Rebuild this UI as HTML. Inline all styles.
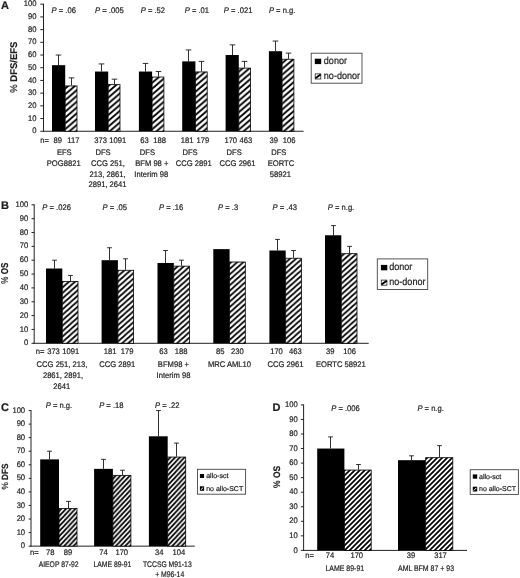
<!DOCTYPE html>
<html><head><meta charset="utf-8"><title>Figure</title>
<style>html,body{margin:0;padding:0;background:#fff}body{width:520px;height:578px;overflow:hidden}svg{display:block;will-change:transform}text{text-rendering:geometricPrecision;font-family:"Liberation Sans",sans-serif;fill:#1c1c1c;stroke:#1c1c1c;stroke-width:0.2px}.ax{stroke:#222;stroke-width:1;fill:none}.er{stroke:#1a1a1a;stroke-width:0.9;fill:none}</style></head><body>
<svg width="520" height="578" viewBox="0 0 520 578">
<defs><pattern id="hA" width="6.7" height="5.8" patternUnits="userSpaceOnUse"><rect width="6.7" height="5.8" fill="#fff"/><path d="M-1.675 1.450L1.675 -1.450M-1.675 7.250L8.375 -1.450M5.025 7.250L8.375 4.350" stroke="#000" stroke-width="1.9"/></pattern><pattern id="hB" width="6.1" height="5.45" patternUnits="userSpaceOnUse"><rect width="6.1" height="5.45" fill="#fff"/><path d="M-1.525 1.363L1.525 -1.363M-1.525 6.812L7.625 -1.363M4.575 6.812L7.625 4.088" stroke="#000" stroke-width="1.85"/></pattern><pattern id="hC" width="4.7" height="5.04" patternUnits="userSpaceOnUse"><rect width="4.7" height="5.04" fill="#fff"/><path d="M-1.175 1.260L1.175 -1.260M-1.175 6.300L5.875 -1.260M3.525 6.300L5.875 3.780" stroke="#000" stroke-width="1.8"/></pattern><pattern id="hD" width="5" height="5" patternUnits="userSpaceOnUse"><rect width="5" height="5" fill="#fff"/><path d="M-1.250 1.250L1.250 -1.250M-1.250 6.250L6.250 -1.250M3.750 6.250L6.250 3.750" stroke="#000" stroke-width="1.72"/></pattern><pattern id="hl" width="4" height="4" patternUnits="userSpaceOnUse"><rect width="4" height="4" fill="#fff"/><path d="M-1 1L1 -1M-1 5L5 -1M3 5L5 3" stroke="#000" stroke-width="1.5"/></pattern></defs>
<rect width="520" height="578" fill="#fff"/>
<path d="M43.50 3.70V131.75" class="ax"/>
<path d="M43.00 131.25H303.60" class="ax"/>
<path d="M40.30 131.25H43.50" class="ax"/>
<text transform="translate(36.40 133.35) scale(0.94 1)" font-size="8.1" text-anchor="end">0</text>
<path d="M40.30 118.55H43.50" class="ax"/>
<text transform="translate(36.40 120.64) scale(0.94 1)" font-size="8.1" text-anchor="end">10</text>
<path d="M40.30 105.84H43.50" class="ax"/>
<text transform="translate(36.40 107.94) scale(0.94 1)" font-size="8.1" text-anchor="end">20</text>
<path d="M40.30 93.13H43.50" class="ax"/>
<text transform="translate(36.40 95.23) scale(0.94 1)" font-size="8.1" text-anchor="end">30</text>
<path d="M40.30 80.43H43.50" class="ax"/>
<text transform="translate(36.40 82.53) scale(0.94 1)" font-size="8.1" text-anchor="end">40</text>
<path d="M40.30 67.72H43.50" class="ax"/>
<text transform="translate(36.40 69.82) scale(0.94 1)" font-size="8.1" text-anchor="end">50</text>
<path d="M40.30 55.02H43.50" class="ax"/>
<text transform="translate(36.40 57.12) scale(0.94 1)" font-size="8.1" text-anchor="end">60</text>
<path d="M40.30 42.31H43.50" class="ax"/>
<text transform="translate(36.40 44.41) scale(0.94 1)" font-size="8.1" text-anchor="end">70</text>
<path d="M40.30 29.61H43.50" class="ax"/>
<text transform="translate(36.40 31.71) scale(0.94 1)" font-size="8.1" text-anchor="end">80</text>
<path d="M40.30 16.91H43.50" class="ax"/>
<text transform="translate(36.40 19.01) scale(0.94 1)" font-size="8.1" text-anchor="end">90</text>
<path d="M40.30 4.20H43.50" class="ax"/>
<text transform="translate(36.40 6.30) scale(0.94 1)" font-size="8.1" text-anchor="end">100</text>
<path d="M58.50 55.02V65.18M55.70 55.02H61.30" class="er"/>
<path d="M71.50 77.89V85.51M68.70 77.89H74.30" class="er"/>
<rect x="52.00" y="65.18" width="13.20" height="66.07" fill="#000"/>
<rect x="65.20" y="85.91" width="11.80" height="45.34" fill="url(#hA)" stroke="#000" stroke-width="0.8"/>
<path d="M101.50 63.91V71.54M98.70 63.91H104.30" class="er"/>
<path d="M114.50 79.16V84.24M111.70 79.16H117.30" class="er"/>
<rect x="95.00" y="71.54" width="13.20" height="59.71" fill="#000"/>
<rect x="108.20" y="84.64" width="11.80" height="46.61" fill="url(#hA)" stroke="#000" stroke-width="0.8"/>
<path d="M145.50 63.41V71.54M142.70 63.41H148.30" class="er"/>
<path d="M158.50 71.54V76.62M155.70 71.54H161.30" class="er"/>
<rect x="138.90" y="71.54" width="13.20" height="59.71" fill="#000"/>
<rect x="152.10" y="77.02" width="11.80" height="54.23" fill="url(#hA)" stroke="#000" stroke-width="0.8"/>
<path d="M188.50 49.94V61.37M185.70 49.94H191.30" class="er"/>
<path d="M201.50 61.37V71.54M198.70 61.37H204.30" class="er"/>
<rect x="182.20" y="61.37" width="13.20" height="69.88" fill="#000"/>
<rect x="195.40" y="71.94" width="11.80" height="59.31" fill="url(#hA)" stroke="#000" stroke-width="0.8"/>
<path d="M232.50 44.86V55.02M229.70 44.86H235.30" class="er"/>
<path d="M244.50 61.37V67.72M241.70 61.37H247.30" class="er"/>
<rect x="225.60" y="55.02" width="13.20" height="76.23" fill="#000"/>
<rect x="238.80" y="68.12" width="11.80" height="63.13" fill="url(#hA)" stroke="#000" stroke-width="0.8"/>
<path d="M275.50 41.04V51.21M272.70 41.04H278.30" class="er"/>
<path d="M288.50 53.11V58.83M285.70 53.11H291.30" class="er"/>
<rect x="268.90" y="51.21" width="13.20" height="80.04" fill="#000"/>
<rect x="282.10" y="59.23" width="11.80" height="72.02" fill="url(#hA)" stroke="#000" stroke-width="0.8"/>
<text transform="translate(17.00 67.20) rotate(-90) scale(0.97 1)" text-anchor="middle" font-size="9.8" font-weight="bold"><tspan font-weight="normal">%</tspan> DFS/EFS</text>
<text x="1.00" y="9.20" font-size="11" font-weight="bold" fill="#000">A</text>
<text transform="translate(63.75 13.00) scale(0.94 1)" font-size="8.1" text-anchor="middle"><tspan font-style="italic">P</tspan> = .06</text>
<text transform="translate(109.38 13.00) scale(0.94 1)" font-size="8.1" text-anchor="middle"><tspan font-style="italic">P</tspan> = .005</text>
<text transform="translate(152.88 13.00) scale(0.94 1)" font-size="8.1" text-anchor="middle"><tspan font-style="italic">P</tspan> = .52</text>
<text transform="translate(196.88 13.00) scale(0.94 1)" font-size="8.1" text-anchor="middle"><tspan font-style="italic">P</tspan> = .01</text>
<text transform="translate(238.12 13.00) scale(0.94 1)" font-size="8.1" text-anchor="middle"><tspan font-style="italic">P</tspan> = .021</text>
<text transform="translate(282.12 13.00) scale(0.94 1)" font-size="8.1" text-anchor="middle"><tspan font-style="italic">P</tspan> = n.g.</text>
<text transform="translate(44.50 142.60) scale(0.94 1)" font-size="8.1" text-anchor="middle">n=</text>
<text transform="translate(57.75 142.60) scale(0.94 1)" font-size="8.1" text-anchor="middle">89</text>
<text transform="translate(73.35 142.60) scale(0.94 1)" font-size="8.1" text-anchor="middle">117</text>
<text transform="translate(100.65 142.60) scale(0.94 1)" font-size="8.1" text-anchor="middle">373</text>
<text transform="translate(117.80 142.60) scale(0.94 1)" font-size="8.1" text-anchor="middle">1091</text>
<text transform="translate(144.45 142.60) scale(0.94 1)" font-size="8.1" text-anchor="middle">63</text>
<text transform="translate(159.65 142.60) scale(0.94 1)" font-size="8.1" text-anchor="middle">188</text>
<text transform="translate(187.10 142.60) scale(0.94 1)" font-size="8.1" text-anchor="middle">181</text>
<text transform="translate(202.95 142.60) scale(0.94 1)" font-size="8.1" text-anchor="middle">179</text>
<text transform="translate(230.75 142.60) scale(0.94 1)" font-size="8.1" text-anchor="middle">170</text>
<text transform="translate(245.80 142.60) scale(0.94 1)" font-size="8.1" text-anchor="middle">463</text>
<text transform="translate(273.65 142.60) scale(0.94 1)" font-size="8.1" text-anchor="middle">39</text>
<text transform="translate(289.15 142.60) scale(0.94 1)" font-size="8.1" text-anchor="middle">106</text>
<text transform="translate(64.30 154.70) scale(0.94 1)" font-size="8.1" text-anchor="middle">EFS</text>
<text transform="translate(103.00 154.70) scale(0.94 1)" font-size="8.1" text-anchor="middle">DFS</text>
<text transform="translate(147.40 154.70) scale(0.94 1)" font-size="8.1" text-anchor="middle">DFS</text>
<text transform="translate(190.00 154.70) scale(0.94 1)" font-size="8.1" text-anchor="middle">DFS</text>
<text transform="translate(234.20 154.70) scale(0.94 1)" font-size="8.1" text-anchor="middle">DFS</text>
<text transform="translate(278.80 154.70) scale(0.94 1)" font-size="8.1" text-anchor="middle">DFS</text>
<text transform="translate(63.70 165.50) scale(0.94 1)" font-size="8.1" text-anchor="middle">POG8821</text>
<text transform="translate(108.00 165.50) scale(0.94 1)" font-size="8.1" text-anchor="middle">CCG 251,</text>
<text transform="translate(151.80 165.50) scale(0.94 1)" font-size="8.1" text-anchor="middle">BFM 98 +</text>
<text transform="translate(193.80 165.50) scale(0.94 1)" font-size="8.1" text-anchor="middle">CCG 2891</text>
<text transform="translate(237.60 165.50) scale(0.94 1)" font-size="8.1" text-anchor="middle">CCG 2961</text>
<text transform="translate(281.00 165.50) scale(0.94 1)" font-size="8.1" text-anchor="middle">EORTC</text>
<text transform="translate(107.60 176.80) scale(0.94 1)" font-size="8.1" text-anchor="middle">213, 2861,</text>
<text transform="translate(151.20 176.80) scale(0.94 1)" font-size="8.1" text-anchor="middle">Interim 98</text>
<text transform="translate(280.30 176.80) scale(0.94 1)" font-size="8.1" text-anchor="middle">58921</text>
<text transform="translate(107.50 187.40) scale(0.94 1)" font-size="8.1" text-anchor="middle">2891, 2641</text>
<rect x="311.20" y="53.20" width="50.80" height="30.00" fill="#fff" stroke="#444" stroke-width="0.9"/>
<rect x="314.80" y="58.70" width="6.40" height="5.40" fill="#000"/>
<rect x="315.20" y="73.90" width="5.60" height="5.10" fill="#fff" stroke="#222" stroke-width="0.8"/>
<path d="M315.40 78.30L320.60 74.60" stroke="#000" stroke-width="1.9"/>
<text transform="translate(323.80 64.10) scale(0.89 1)" font-size="10.2">donor</text>
<text transform="translate(323.80 79.20) scale(0.89 1)" font-size="10.2">no-donor</text>
<path d="M34.20 204.30V343.80" class="ax"/>
<path d="M33.70 343.30H368.70" class="ax"/>
<path d="M31.50 343.30H34.20" class="ax"/>
<text transform="translate(28.20 345.40) scale(0.94 1)" font-size="8.1" text-anchor="end">0</text>
<path d="M31.50 329.45H34.20" class="ax"/>
<text transform="translate(28.20 331.55) scale(0.94 1)" font-size="8.1" text-anchor="end">10</text>
<path d="M31.50 315.60H34.20" class="ax"/>
<text transform="translate(28.20 317.70) scale(0.94 1)" font-size="8.1" text-anchor="end">20</text>
<path d="M31.50 301.75H34.20" class="ax"/>
<text transform="translate(28.20 303.85) scale(0.94 1)" font-size="8.1" text-anchor="end">30</text>
<path d="M31.50 287.90H34.20" class="ax"/>
<text transform="translate(28.20 290.00) scale(0.94 1)" font-size="8.1" text-anchor="end">40</text>
<path d="M31.50 274.05H34.20" class="ax"/>
<text transform="translate(28.20 276.15) scale(0.94 1)" font-size="8.1" text-anchor="end">50</text>
<path d="M31.50 260.20H34.20" class="ax"/>
<text transform="translate(28.20 262.30) scale(0.94 1)" font-size="8.1" text-anchor="end">60</text>
<path d="M31.50 246.35H34.20" class="ax"/>
<text transform="translate(28.20 248.45) scale(0.94 1)" font-size="8.1" text-anchor="end">70</text>
<path d="M31.50 232.50H34.20" class="ax"/>
<text transform="translate(28.20 234.60) scale(0.94 1)" font-size="8.1" text-anchor="end">80</text>
<path d="M31.50 218.65H34.20" class="ax"/>
<text transform="translate(28.20 220.75) scale(0.94 1)" font-size="8.1" text-anchor="end">90</text>
<path d="M31.50 204.80H34.20" class="ax"/>
<text transform="translate(28.20 206.90) scale(0.94 1)" font-size="8.1" text-anchor="end">100</text>
<path d="M54.50 260.20V268.51M52.10 260.20H56.90" class="er"/>
<path d="M70.50 275.44V280.98M68.10 275.44H72.90" class="er"/>
<rect x="46.00" y="268.51" width="16.30" height="74.79" fill="#000"/>
<rect x="62.30" y="281.38" width="15.70" height="61.92" fill="url(#hB)" stroke="#000" stroke-width="0.8"/>
<path d="M109.50 247.74V260.20M107.10 247.74H111.90" class="er"/>
<path d="M125.50 258.81V269.89M123.10 258.81H127.90" class="er"/>
<rect x="101.60" y="260.20" width="16.30" height="83.10" fill="#000"/>
<rect x="117.90" y="270.29" width="15.70" height="73.01" fill="url(#hB)" stroke="#000" stroke-width="0.8"/>
<path d="M165.50 250.50V262.97M163.10 250.50H167.90" class="er"/>
<path d="M181.50 260.20V265.74M179.10 260.20H183.90" class="er"/>
<rect x="157.50" y="262.97" width="16.30" height="80.33" fill="#000"/>
<rect x="173.80" y="266.14" width="15.70" height="77.16" fill="url(#hB)" stroke="#000" stroke-width="0.8"/>
<rect x="213.30" y="249.12" width="16.30" height="94.18" fill="#000"/>
<rect x="229.60" y="261.99" width="15.70" height="81.31" fill="url(#hB)" stroke="#000" stroke-width="0.8"/>
<path d="M277.50 239.43V250.50M275.10 239.43H279.90" class="er"/>
<path d="M293.50 250.50V257.85M291.10 250.50H295.90" class="er"/>
<rect x="269.40" y="250.50" width="16.30" height="92.80" fill="#000"/>
<rect x="285.70" y="258.25" width="15.70" height="85.05" fill="url(#hB)" stroke="#000" stroke-width="0.8"/>
<path d="M333.50 225.58V235.27M331.10 225.58H335.90" class="er"/>
<path d="M349.50 246.35V253.28M347.10 246.35H351.90" class="er"/>
<rect x="325.00" y="235.27" width="16.30" height="108.03" fill="#000"/>
<rect x="341.30" y="253.68" width="15.70" height="89.62" fill="url(#hB)" stroke="#000" stroke-width="0.8"/>
<text transform="translate(8.30 273.20) rotate(-90) scale(0.8 1)" text-anchor="middle" font-size="10" font-weight="bold"><tspan font-weight="normal">%</tspan> OS</text>
<text x="0.90" y="209.30" font-size="11" font-weight="bold" fill="#000">B</text>
<text transform="translate(56.60 210.40) scale(0.94 1)" font-size="8.1" text-anchor="middle"><tspan font-style="italic">P</tspan> = .026</text>
<text transform="translate(114.75 210.40) scale(0.94 1)" font-size="8.1" text-anchor="middle"><tspan font-style="italic">P</tspan> = .05</text>
<text transform="translate(171.15 210.40) scale(0.94 1)" font-size="8.1" text-anchor="middle"><tspan font-style="italic">P</tspan> = .16</text>
<text transform="translate(228.10 210.40) scale(0.94 1)" font-size="8.1" text-anchor="middle"><tspan font-style="italic">P</tspan> = .3</text>
<text transform="translate(284.75 210.40) scale(0.94 1)" font-size="8.1" text-anchor="middle"><tspan font-style="italic">P</tspan> = .43</text>
<text transform="translate(341.00 210.40) scale(0.94 1)" font-size="8.1" text-anchor="middle"><tspan font-style="italic">P</tspan> = n.g.</text>
<text transform="translate(40.00 354.00) scale(0.94 1)" font-size="8.1" text-anchor="middle">n=</text>
<text transform="translate(53.50 354.00) scale(0.94 1)" font-size="8.1" text-anchor="middle">373</text>
<text transform="translate(70.75 354.00) scale(0.94 1)" font-size="8.1" text-anchor="middle">1091</text>
<text transform="translate(110.20 354.00) scale(0.94 1)" font-size="8.1" text-anchor="middle">181</text>
<text transform="translate(127.05 354.00) scale(0.94 1)" font-size="8.1" text-anchor="middle">179</text>
<text transform="translate(163.55 354.00) scale(0.94 1)" font-size="8.1" text-anchor="middle">63</text>
<text transform="translate(181.05 354.00) scale(0.94 1)" font-size="8.1" text-anchor="middle">188</text>
<text transform="translate(220.25 354.00) scale(0.94 1)" font-size="8.1" text-anchor="middle">85</text>
<text transform="translate(237.35 354.00) scale(0.94 1)" font-size="8.1" text-anchor="middle">230</text>
<text transform="translate(276.50 354.00) scale(0.94 1)" font-size="8.1" text-anchor="middle">170</text>
<text transform="translate(295.35 354.00) scale(0.94 1)" font-size="8.1" text-anchor="middle">463</text>
<text transform="translate(330.25 354.00) scale(0.94 1)" font-size="8.1" text-anchor="middle">39</text>
<text transform="translate(349.60 354.00) scale(0.94 1)" font-size="8.1" text-anchor="middle">106</text>
<text transform="translate(62.00 366.70) scale(0.94 1)" font-size="8.1" text-anchor="middle">CCG 251, 213,</text>
<text transform="translate(117.30 366.70) scale(0.94 1)" font-size="8.1" text-anchor="middle">CCG 2891</text>
<text transform="translate(173.40 366.70) scale(0.94 1)" font-size="8.1" text-anchor="middle">BFM98 +</text>
<text transform="translate(229.50 366.70) scale(0.94 1)" font-size="8.1" text-anchor="middle">MRC AML10</text>
<text transform="translate(285.40 366.70) scale(0.94 1)" font-size="8.1" text-anchor="middle">CCG 2961</text>
<text transform="translate(340.90 366.70) scale(0.94 1)" font-size="8.1" text-anchor="middle">EORTC 58921</text>
<text transform="translate(63.00 377.70) scale(0.94 1)" font-size="8.1" text-anchor="middle">2861, 2891,</text>
<text transform="translate(173.50 377.70) scale(0.94 1)" font-size="8.1" text-anchor="middle">Interim 98</text>
<text transform="translate(61.70 388.50) scale(0.94 1)" font-size="8.1" text-anchor="middle">2641</text>
<rect x="377.30" y="258.90" width="50.40" height="30.60" fill="#fff" stroke="#444" stroke-width="0.9"/>
<rect x="380.90" y="264.90" width="6.40" height="5.40" fill="#000"/>
<rect x="381.30" y="280.10" width="5.60" height="5.10" fill="#fff" stroke="#222" stroke-width="0.8"/>
<path d="M381.50 284.50L386.70 280.80" stroke="#000" stroke-width="1.9"/>
<text transform="translate(389.20 270.30) scale(0.89 1)" font-size="10.2">donor</text>
<text transform="translate(389.20 285.40) scale(0.89 1)" font-size="10.2">no-donor</text>
<path d="M31.00 410.05V546.65" class="ax"/>
<path d="M30.50 546.15H194.80" class="ax"/>
<path d="M28.70 546.15H31.00" class="ax"/>
<text transform="translate(25.10 548.25) scale(0.94 1)" font-size="8.1" text-anchor="end">0</text>
<path d="M28.70 532.59H31.00" class="ax"/>
<text transform="translate(25.10 534.69) scale(0.94 1)" font-size="8.1" text-anchor="end">10</text>
<path d="M28.70 519.03H31.00" class="ax"/>
<text transform="translate(25.10 521.13) scale(0.94 1)" font-size="8.1" text-anchor="end">20</text>
<path d="M28.70 505.47H31.00" class="ax"/>
<text transform="translate(25.10 507.57) scale(0.94 1)" font-size="8.1" text-anchor="end">30</text>
<path d="M28.70 491.91H31.00" class="ax"/>
<text transform="translate(25.10 494.01) scale(0.94 1)" font-size="8.1" text-anchor="end">40</text>
<path d="M28.70 478.35H31.00" class="ax"/>
<text transform="translate(25.10 480.45) scale(0.94 1)" font-size="8.1" text-anchor="end">50</text>
<path d="M28.70 464.79H31.00" class="ax"/>
<text transform="translate(25.10 466.89) scale(0.94 1)" font-size="8.1" text-anchor="end">60</text>
<path d="M28.70 451.23H31.00" class="ax"/>
<text transform="translate(25.10 453.33) scale(0.94 1)" font-size="8.1" text-anchor="end">70</text>
<path d="M28.70 437.67H31.00" class="ax"/>
<text transform="translate(25.10 439.77) scale(0.94 1)" font-size="8.1" text-anchor="end">80</text>
<path d="M28.70 424.11H31.00" class="ax"/>
<text transform="translate(25.10 426.21) scale(0.94 1)" font-size="8.1" text-anchor="end">90</text>
<path d="M28.70 410.55H31.00" class="ax"/>
<text transform="translate(25.10 412.65) scale(0.94 1)" font-size="8.1" text-anchor="end">100</text>
<path d="M49.50 451.23V459.37M47.10 451.23H51.90" class="er"/>
<path d="M68.50 501.40V508.18M66.10 501.40H70.90" class="er"/>
<rect x="40.20" y="459.37" width="18.80" height="86.78" fill="#000"/>
<rect x="59.00" y="508.58" width="18.00" height="37.57" fill="url(#hC)" stroke="#000" stroke-width="0.8"/>
<path d="M103.50 459.37V468.86M101.10 459.37H105.90" class="er"/>
<path d="M122.50 470.21V474.96M120.10 470.21H124.90" class="er"/>
<rect x="94.10" y="468.86" width="18.80" height="77.29" fill="#000"/>
<rect x="112.90" y="475.36" width="18.00" height="70.79" fill="url(#hC)" stroke="#000" stroke-width="0.8"/>
<path d="M158.50 410.55V436.31M156.10 410.55H160.90" class="er"/>
<path d="M176.50 443.09V456.65M174.10 443.09H178.90" class="er"/>
<rect x="148.90" y="436.31" width="18.80" height="109.84" fill="#000"/>
<rect x="167.70" y="457.05" width="18.00" height="89.10" fill="url(#hC)" stroke="#000" stroke-width="0.8"/>
<text transform="translate(7.70 476.60) rotate(-90) scale(0.91 1)" text-anchor="middle" font-size="9" font-weight="bold"><tspan font-weight="normal">%</tspan> DFS</text>
<text x="1.00" y="410.60" font-size="11" font-weight="bold" fill="#000">C</text>
<text transform="translate(58.95 408.00) scale(0.94 1)" font-size="8.1" text-anchor="middle"><tspan font-style="italic">P</tspan> = n.g.</text>
<text transform="translate(111.30 408.00) scale(0.94 1)" font-size="8.1" text-anchor="middle"><tspan font-style="italic">P</tspan> = .18</text>
<text transform="translate(167.20 408.00) scale(0.94 1)" font-size="8.1" text-anchor="middle"><tspan font-style="italic">P</tspan> = .22</text>
<text transform="translate(34.25 554.60) scale(0.94 1)" font-size="8.1" text-anchor="middle">n=</text>
<text transform="translate(50.25 554.60) scale(0.94 1)" font-size="8.1" text-anchor="middle">78</text>
<text transform="translate(67.90 554.60) scale(0.94 1)" font-size="8.1" text-anchor="middle">89</text>
<text transform="translate(103.60 554.60) scale(0.94 1)" font-size="8.1" text-anchor="middle">74</text>
<text transform="translate(121.75 554.60) scale(0.94 1)" font-size="8.1" text-anchor="middle">170</text>
<text transform="translate(159.20 554.60) scale(0.94 1)" font-size="8.1" text-anchor="middle">34</text>
<text transform="translate(178.80 554.60) scale(0.94 1)" font-size="8.1" text-anchor="middle">104</text>
<text transform="translate(58.60 567.00) scale(0.84 1)" font-size="8.1" text-anchor="middle">AIEOP 87-92</text>
<text transform="translate(112.40 567.00) scale(0.84 1)" font-size="8.1" text-anchor="middle">LAME 89-91</text>
<text transform="translate(167.30 567.00) scale(0.84 1)" font-size="8.1" text-anchor="middle">TCCSG M91-13</text>
<text transform="translate(169.70 576.60) scale(0.84 1)" font-size="8.1" text-anchor="middle">+ M96-14</text>
<rect x="197.50" y="469.30" width="48.10" height="24.90" fill="#fff" stroke="#444" stroke-width="0.9"/>
<rect x="199.90" y="474.00" width="4.20" height="4.00" fill="#000"/>
<rect x="199.90" y="486.30" width="4.20" height="4.50" fill="#000"/>
<path d="M200.80 489.80L203.20 487.50" stroke="#fff" stroke-width="1.0"/>
<text transform="translate(206.20 478.00) scale(1.0 1)" font-size="7.0">allo-sct</text>
<text transform="translate(206.20 490.60) scale(1.0 1)" font-size="7.0">no allo-SCT</text>
<path d="M303.60 404.40V550.90" class="ax"/>
<path d="M303.10 550.40H467.00" class="ax"/>
<path d="M300.90 550.40H303.60" class="ax"/>
<text transform="translate(297.70 552.50) scale(0.94 1)" font-size="8.1" text-anchor="end">0</text>
<path d="M300.90 535.85H303.60" class="ax"/>
<text transform="translate(297.70 537.95) scale(0.94 1)" font-size="8.1" text-anchor="end">10</text>
<path d="M300.90 521.30H303.60" class="ax"/>
<text transform="translate(297.70 523.40) scale(0.94 1)" font-size="8.1" text-anchor="end">20</text>
<path d="M300.90 506.75H303.60" class="ax"/>
<text transform="translate(297.70 508.85) scale(0.94 1)" font-size="8.1" text-anchor="end">30</text>
<path d="M300.90 492.20H303.60" class="ax"/>
<text transform="translate(297.70 494.30) scale(0.94 1)" font-size="8.1" text-anchor="end">40</text>
<path d="M300.90 477.65H303.60" class="ax"/>
<text transform="translate(297.70 479.75) scale(0.94 1)" font-size="8.1" text-anchor="end">50</text>
<path d="M300.90 463.10H303.60" class="ax"/>
<text transform="translate(297.70 465.20) scale(0.94 1)" font-size="8.1" text-anchor="end">60</text>
<path d="M300.90 448.55H303.60" class="ax"/>
<text transform="translate(297.70 450.65) scale(0.94 1)" font-size="8.1" text-anchor="end">70</text>
<path d="M300.90 434.00H303.60" class="ax"/>
<text transform="translate(297.70 436.10) scale(0.94 1)" font-size="8.1" text-anchor="end">80</text>
<path d="M300.90 419.45H303.60" class="ax"/>
<text transform="translate(297.70 421.55) scale(0.94 1)" font-size="8.1" text-anchor="end">90</text>
<path d="M300.90 404.90H303.60" class="ax"/>
<text transform="translate(297.70 407.00) scale(0.94 1)" font-size="8.1" text-anchor="end">100</text>
<path d="M330.50 436.91V448.55M328.10 436.91H332.90" class="er"/>
<path d="M358.50 464.55V469.65M356.10 464.55H360.90" class="er"/>
<rect x="317.20" y="448.55" width="27.20" height="101.85" fill="#000"/>
<rect x="344.40" y="470.05" width="26.80" height="80.35" fill="url(#hD)" stroke="#000" stroke-width="0.8"/>
<path d="M411.50 455.82V460.19M409.10 455.82H413.90" class="er"/>
<path d="M439.50 445.64V457.28M437.10 445.64H441.90" class="er"/>
<rect x="398.00" y="460.19" width="27.70" height="90.21" fill="#000"/>
<rect x="425.70" y="457.68" width="27.10" height="92.72" fill="url(#hD)" stroke="#000" stroke-width="0.8"/>
<text transform="translate(280.20 476.90) rotate(-90) scale(0.89 1)" text-anchor="middle" font-size="9.5" font-weight="bold"><tspan font-weight="normal">%</tspan> OS</text>
<text x="272.60" y="410.80" font-size="11" font-weight="bold" fill="#000">D</text>
<text transform="translate(345.50 411.30) scale(0.94 1)" font-size="8.1" text-anchor="middle"><tspan font-style="italic">P</tspan> = .006</text>
<text transform="translate(430.60 411.30) scale(0.94 1)" font-size="8.1" text-anchor="middle"><tspan font-style="italic">P</tspan> = n.g.</text>
<text transform="translate(309.65 558.20) scale(0.94 1)" font-size="8.1" text-anchor="middle">n=</text>
<text transform="translate(330.10 558.20) scale(0.94 1)" font-size="8.1" text-anchor="middle">74</text>
<text transform="translate(356.75 558.20) scale(0.94 1)" font-size="8.1" text-anchor="middle">170</text>
<text transform="translate(410.90 558.20) scale(0.94 1)" font-size="8.1" text-anchor="middle">39</text>
<text transform="translate(440.50 558.20) scale(0.94 1)" font-size="8.1" text-anchor="middle">317</text>
<text transform="translate(344.80 571.00) scale(0.86 1)" font-size="8.1" text-anchor="middle">LAME 89-91</text>
<text transform="translate(426.00 571.00) scale(0.86 1)" font-size="8.1" text-anchor="middle">AML BFM 87 + 93</text>
<rect x="470.20" y="469.70" width="48.20" height="24.70" fill="#fff" stroke="#444" stroke-width="0.9"/>
<rect x="472.80" y="474.40" width="4.40" height="4.30" fill="#000"/>
<rect x="472.80" y="486.70" width="4.40" height="4.80" fill="#000"/>
<path d="M473.70 490.50L476.30 487.90" stroke="#fff" stroke-width="1.0"/>
<text transform="translate(479.00 478.70) scale(1.0 1)" font-size="7.0">allo-sct</text>
<text transform="translate(479.00 491.30) scale(1.0 1)" font-size="7.0">no allo-SCT</text>
</svg></body></html>
